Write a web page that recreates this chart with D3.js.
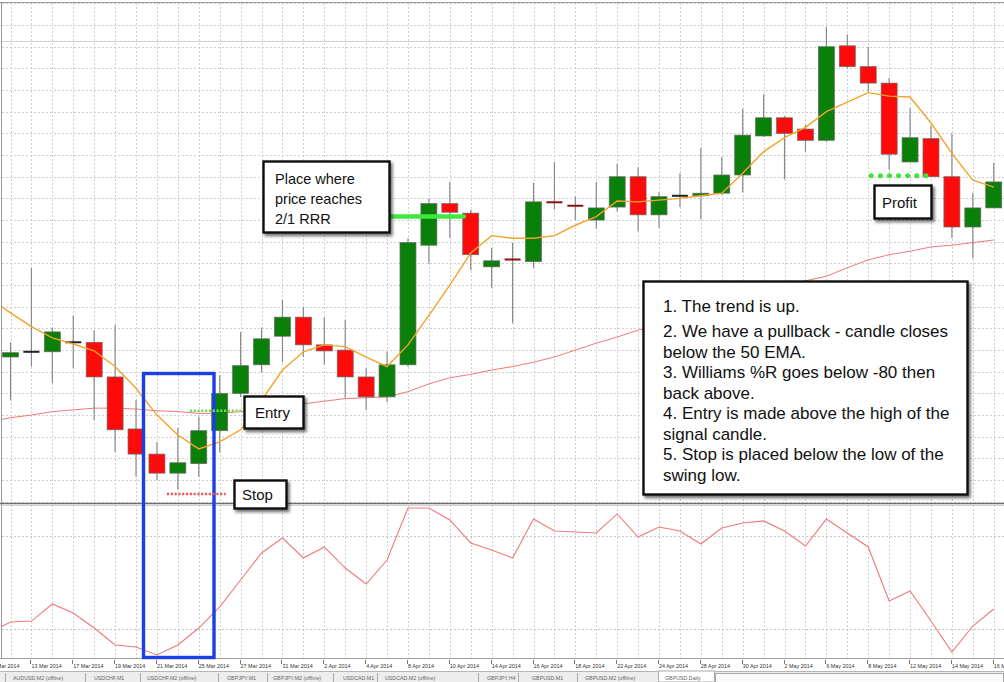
<!DOCTYPE html>
<html><head><meta charset="utf-8">
<script src="https://cdn.jsdelivr.net/npm/d3@7"></script>
<style>body{margin:0;background:#fff} svg{display:block} text{font-family:"Liberation Sans",Arial,Helvetica,sans-serif}</style>
</head><body><svg id="c" width="1004" height="682"></svg>
<script>
// ---------- DATA ----------
const dates = ["11 Mar 2014","12 Mar 2014","13 Mar 2014","14 Mar 2014","17 Mar 2014","18 Mar 2014","19 Mar 2014","20 Mar 2014","21 Mar 2014","24 Mar 2014","25 Mar 2014","26 Mar 2014","27 Mar 2014","28 Mar 2014","31 Mar 2014","1 Apr 2014","2 Apr 2014","3 Apr 2014","4 Apr 2014","7 Apr 2014","8 Apr 2014","9 Apr 2014","10 Apr 2014","11 Apr 2014","14 Apr 2014","15 Apr 2014","16 Apr 2014","17 Apr 2014","18 Apr 2014","21 Apr 2014","22 Apr 2014","23 Apr 2014","24 Apr 2014","25 Apr 2014","28 Apr 2014","29 Apr 2014","30 Apr 2014","1 May 2014","2 May 2014","5 May 2014","6 May 2014","7 May 2014","8 May 2014","9 May 2014","12 May 2014","13 May 2014","14 May 2014","15 May 2014","16 May 2014"];
// candles from 12 Mar 2014 (11 Mar is off-screen)
const candleDates = dates.slice(1);
const open  = [1.6642,1.6648,1.6648,1.6659,1.6659,1.6619,1.6559,1.6530,1.6508,1.6519,1.6557,1.6600,1.6633,1.6666,1.6688,1.6656,1.6650,1.6619,1.6596,1.6633,1.6771,1.6819,1.6808,1.6746,1.6755,1.6752,1.6821,1.6817,1.6800,1.6815,1.6850,1.6806,1.6828,1.6828,1.6831,1.6852,1.6897,1.6918,1.6905,1.6892,1.7001,1.6977,1.6958,1.6867,1.6894,1.6850,1.6792,1.6814];
const high  = [1.6659,1.6745,1.6676,1.6690,1.6673,1.6679,1.6592,1.6544,1.6560,1.6573,1.6621,1.6671,1.6676,1.6708,1.6700,1.6688,1.6685,1.6629,1.6648,1.6779,1.6825,1.6844,1.6812,1.6768,1.6774,1.6843,1.6867,1.6827,1.6844,1.6865,1.6861,1.6832,1.6854,1.6883,1.6873,1.6928,1.6945,1.6920,1.6910,1.7023,1.7014,1.7000,1.6964,1.6929,1.6909,1.6900,1.6831,1.6866];
const low   = [1.6592,1.6631,1.6612,1.6629,1.6569,1.6532,1.6504,1.6500,1.6489,1.6504,1.6532,1.6596,1.6624,1.6636,1.6642,1.6633,1.6595,1.6581,1.6590,1.6631,1.6750,1.6779,1.6742,1.6722,1.6681,1.6745,1.6812,1.6800,1.6790,1.6810,1.6787,1.6791,1.6815,1.6801,1.6829,1.6832,1.6896,1.6847,1.6879,1.6890,1.6975,1.6948,1.6858,1.6867,1.6850,1.6779,1.6756,1.6814];
const close = [1.6647,1.6648,1.6671,1.6659,1.6619,1.6558,1.6530,1.6508,1.6520,1.6557,1.6600,1.6632,1.6663,1.6688,1.6656,1.6649,1.6619,1.6596,1.6633,1.6774,1.6819,1.6809,1.6760,1.6753,1.6754,1.6821,1.6820,1.6816,1.6814,1.6850,1.6806,1.6827,1.6828,1.6831,1.6852,1.6898,1.6918,1.6900,1.6892,1.7000,1.6977,1.6958,1.6876,1.6895,1.6850,1.6792,1.6814,1.6844];
// moving averages and Williams %R from 11 Mar 2014
const emaFast = [1.6710,1.6693,1.6677,1.6664,1.6657,1.6649,1.6631,1.6606,1.6575,1.6552,1.6536,1.6544,1.6558,1.6592,1.6627,1.6648,1.6656,1.6654,1.6642,1.6631,1.6656,1.6690,1.6725,1.6762,1.6782,1.6779,1.6779,1.6782,1.6794,1.6804,1.6822,1.6821,1.6823,1.6825,1.6828,1.6831,1.6854,1.6879,1.6895,1.6907,1.6925,1.6936,1.6947,1.6943,1.6942,1.6912,1.6877,1.6846,1.6838];
const ema50 = [1.6567,1.6572,1.6575,1.6579,1.6581,1.6583,1.6583,1.6582,1.6580,1.6579,1.6577,1.6577,1.6579,1.6581,1.6584,1.6588,1.6591,1.6594,1.6595,1.6596,1.6602,1.6611,1.6618,1.6622,1.6627,1.6631,1.6636,1.6642,1.6650,1.6658,1.6665,1.6673,1.6680,1.6687,1.6694,1.6701,1.6708,1.6715,1.6722,1.6730,1.6735,1.6745,1.6754,1.6760,1.6764,1.6769,1.6771,1.6774,1.6777];
const wpr = [-82.6,-75.8,-75.2,-64.2,-70.0,-79.7,-90.6,-91.9,-97.1,-90.6,-79.7,-66.1,-48.7,-31.3,-21.6,-34.5,-27.4,-41.0,-51.3,-35.8,-2.3,-2.3,-10.0,-24.8,-29.4,-34.5,-9.4,-17.1,-17.7,-18.4,-6.1,-21.0,-14.5,-17.1,-25.5,-15.2,-11.9,-10.6,-17.1,-26.8,-9.4,-18.4,-27.4,-62.3,-55.8,-75.2,-95.2,-78.4,-67.4];
const wprLevels = [-20, -80];
const tabs = ["AUDUSD,M2 (offline)","USDCHF,M1","USDCHF,M2 (offline)","GBPJPY,M1","GBPJPY,M2 (offline)","USDCAD,M1","USDCAD,M2 (offline)","GBPJPY,H4","GBPUSD,M1","GBPUSD,M2 (offline)","GBPUSD,Daily"];
const levelEntry = 1.6580, levelStop = 1.6484, levelTarget = 1.6804, levelProfit = 1.6851, levelLine = 1.7007;
const notes = ["1. The trend is up.","2. We have a pullback - candle closes","below the 50 EMA.","3. Williams %R goes below -80 then","back above.","4. Entry is made above the high of the","signal candle.","5. Stop is placed below the low of the","swing low."];
const rrrText = ["Place where","price reaches","2/1 RRR"];

// ---------- LAYOUT ----------
const svg = d3.select("#c");
const mainTop = 3, mainBot = 503, indTop = 505, indBot = 658;
const x = d3.scalePoint().domain(dates).range([-10.42, 993.74]);
const y = d3.scaleLinear().domain([1.65, 1.70]).range([480.1, 46.7]);
const yw = d3.scaleLinear().domain([-100, 0]).range([659.5, 504.5]);

const defs = svg.append("defs");
defs.append("clipPath").attr("id","cm").append("rect").attr("x",2).attr("y",mainTop).attr("width",1004).attr("height",mainBot-mainTop);
defs.append("clipPath").attr("id","ci").append("rect").attr("x",2).attr("y",indTop).attr("width",1004).attr("height",indBot-indTop);
const f = defs.append("filter").attr("id","sh").attr("x","-20%").attr("y","-20%").attr("width","140%").attr("height","140%");
f.append("feDropShadow").attr("dx",2).attr("dy",2.5).attr("stdDeviation",1.6).attr("flood-color","#000").attr("flood-opacity",0.55);

svg.append("rect").attr("width",1004).attr("height",682).attr("fill","#fff");

const gridCol = "#cfcfcf";
// grid main
const gm = svg.append("g").attr("clip-path","url(#cm)");
const yt = d3.range(1.6400, 1.7101, 0.0025);
gm.selectAll("line.h").data(yt).join("line")
  .attr("x1",2).attr("x2",1004).attr("y1",d=>Math.round(y(d))+0.5).attr("y2",d=>Math.round(y(d))+0.5)
  .attr("stroke",gridCol).attr("stroke-dasharray","2,2");
gm.selectAll("line.v").data(dates).join("line")
  .attr("x1",d=>Math.round(x(d))+0.5).attr("x2",d=>Math.round(x(d))+0.5).attr("y1",mainTop).attr("y2",mainBot)
  .attr("stroke",gridCol).attr("stroke-dasharray","2,2");
gm.append("line").attr("x1",2).attr("x2",1004).attr("y1",Math.round(y(levelLine))+0.5).attr("y2",Math.round(y(levelLine))+0.5)
  .attr("stroke","#d4d4d4").attr("stroke-width",1);

// grid indicator
const gi = svg.append("g").attr("clip-path","url(#ci)");
gi.selectAll("line.v").data(dates).join("line")
  .attr("x1",d=>Math.round(x(d))+0.5).attr("x2",d=>Math.round(x(d))+0.5).attr("y1",indTop).attr("y2",indBot)
  .attr("stroke",gridCol).attr("stroke-dasharray","2,2");
gi.selectAll("line.h").data(wprLevels).join("line")
  .attr("x1",2).attr("x2",1004).attr("y1",d=>Math.round(yw(d))+0.5).attr("y2",d=>Math.round(yw(d))+0.5)
  .attr("stroke","#c4c4c4").attr("stroke-dasharray","2,2");

// 50 EMA
const lineM = (arr)=> d3.line().x((d,i)=>x(dates[i])).y(d=>y(d))(arr);
gm.append("path").attr("d",lineM(ema50)).attr("fill","none").attr("stroke","#f07a7a").attr("stroke-width",1);

// candles
const cd = candleDates.map((d,i)=>({d,o:open[i],h:high[i],l:low[i],c:close[i]}));
gm.selectAll("line.w").data(cd).join("line")
  .attr("x1",d=>x(d.d)).attr("x2",d=>x(d.d)).attr("y1",d=>y(d.h)).attr("y2",d=>y(d.l))
  .attr("stroke","#8a8a8a").attr("stroke-width",1.2);
gm.selectAll("rect.b").data(cd).join("rect")
  .attr("x",d=>x(d.d)-8).attr("width",16)
  .attr("y",d=>{const t=y(Math.max(d.o,d.c)), b=y(Math.min(d.o,d.c)); return (b-t<2)?(t+b)/2-1:t;})
  .attr("height",d=>Math.max(2, y(Math.min(d.o,d.c))-y(Math.max(d.o,d.c))))
  .attr("fill",d=>{const diff=d.c-d.o; if(Math.abs(diff)<0.00015) return diff<0?"#8b1010":"#222"; return diff>0?"#0a7f0a":"#ff0a0a";})
  .attr("stroke",d=>Math.abs(d.c-d.o)<0.00015?"none":"#6a6a6a").attr("stroke-width",0.7);

// fast EMA
gm.append("path").attr("d",lineM(emaFast)).attr("fill","none").attr("stroke","#f2a32a").attr("stroke-width",1.4);

// Williams %R
gi.append("path").attr("d",d3.line().x((d,i)=>x(dates[i])).y(d=>yw(d))(wpr))
  .attr("fill","none").attr("stroke","#f07a7a").attr("stroke-width",1.1);

// borders
svg.append("line").attr("x1",0).attr("x2",1004).attr("y1",2.5).attr("y2",2.5).attr("stroke","#9a9a9a");
svg.append("line").attr("x1",1.5).attr("x2",1.5).attr("y1",2.5).attr("y2",indBot).attr("stroke","#9a9a9a");
svg.append("line").attr("x1",0).attr("x2",1004).attr("y1",503.5).attr("y2",503.5).attr("stroke","#6e6e6e").attr("stroke-width",1.5);
svg.append("line").attr("x1",0).attr("x2",1004).attr("y1",505.5).attr("y2",505.5).attr("stroke","#d0d0d0").attr("stroke-width",1);
svg.append("line").attr("x1",0).attr("x2",1004).attr("y1",indBot+0.5).attr("y2",indBot+0.5).attr("stroke","#a0a0a0");

// date axis
const lab = dates.filter((d,i)=>i%2===0);
const ga = svg.append("g");
ga.selectAll("line").data(lab).join("line")
  .attr("x1",d=>Math.round(x(d))-0.5).attr("x2",d=>Math.round(x(d))-0.5).attr("y1",660).attr("y2",664)
  .attr("stroke","#777");
ga.selectAll("text").data(lab).join("text")
  .attr("x",d=>x(d)).attr("y",668).attr("font-size",5.4).attr("fill","#333").text(d=>d);

// tabs
const tabX = [13,94,147,227,273,343,385,487,532,585,665];
const sepX = [5,85,140,218,267,333,377,478,518,577];
svg.append("rect").attr("x",0).attr("y",671).attr("width",1004).attr("height",11).attr("fill","#ededed");
svg.append("line").attr("x1",0).attr("x2",1004).attr("y1",671.5).attr("y2",671.5).attr("stroke","#b5b5b5");
svg.append("rect").attr("x",658.5).attr("y",671).attr("width",56).attr("height",11).attr("fill","#fff").attr("stroke","#aaa");
svg.append("rect").attr("x",715.5).attr("y",673.5).attr("width",288).attr("height",9).attr("fill","#fafafa").attr("stroke","#aaa");
svg.selectAll("line.sep").data(sepX).join("line").attr("x1",d=>d+0.5).attr("x2",d=>d+0.5).attr("y1",673).attr("y2",682).attr("stroke","#aaa");
svg.selectAll("text.tab").data(tabs).join("text").attr("x",(d,i)=>tabX[i]).attr("y",679.5)
  .attr("font-size",5.3).attr("fill","#666").text(d=>d);

// ---------- ANNOTATIONS ----------
const ga2 = svg.append("g");
// blue selection rectangle
ga2.append("rect").attr("x",143.5).attr("y",373.5).attr("width",70.5).attr("height",284)
  .attr("fill","none").attr("stroke","#1b3fe4").attr("stroke-width",3.4);
// level lines
ga2.append("line").attr("x1",x(dates[19])-13).attr("x2",x(dates[22])+14).attr("y1",y(levelTarget)).attr("y2",y(levelTarget))
  .attr("stroke","#3ee83e").attr("stroke-width",4.5).attr("stroke-linecap","round");
ga2.append("line").attr("x1",x(dates[9])+12).attr("x2",x(dates[12])+1).attr("y1",y(levelEntry)).attr("y2",y(levelEntry))
  .attr("stroke","#78dd55").attr("stroke-width",2.6).attr("stroke-dasharray","2.2,1.6");
ga2.append("line").attr("x1",x(dates[8])+10).attr("x2",x(dates[11])+6).attr("y1",y(levelStop)).attr("y2",y(levelStop))
  .attr("stroke","#e25a5a").attr("stroke-width",2.6).attr("stroke-dasharray","2.2,1.6");
ga2.append("line").attr("x1",x(dates[42])+3).attr("x2",x(dates[45])+3).attr("y1",y(levelProfit)).attr("y2",y(levelProfit))
  .attr("stroke","#3fe43f").attr("stroke-width",5).attr("stroke-linecap","round").attr("stroke-dasharray","0.1,9");

function box(x0,y0,w,h){
  ga2.append("rect").attr("x",x0).attr("y",y0).attr("width",w).attr("height",h)
    .attr("fill","#fff").attr("stroke","#111").attr("stroke-width",2.4).attr("filter","url(#sh)");
}
box(263.5,161.5,126,71);
ga2.selectAll("text.r").data(rrrText).join("text").attr("x",275).attr("y",(d,i)=>184+i*20)
  .attr("font-size",14.5).attr("fill","#111").text(d=>d);
box(244.5,396.5,59,32);
ga2.append("text").attr("x",255).attr("y",418).attr("font-size",15).attr("fill","#111").text("Entry");
box(234.5,480.5,52,28);
ga2.append("text").attr("x",242).attr("y",500).attr("font-size",15).attr("fill","#111").text("Stop");
box(874.5,185.5,57,33);
ga2.append("text").attr("x",882).attr("y",208).attr("font-size",15).attr("fill","#111").text("Profit");
box(643.5,281.5,324,213);
ga2.selectAll("text.n").data(notes).join("text").attr("x",663)
  .attr("y",(d,i)=> i===0 ? 312 : 337 + (i-1)*20.5)
  .attr("font-size",17).attr("fill","#111").text(d=>d);
</script>
</body></html>
